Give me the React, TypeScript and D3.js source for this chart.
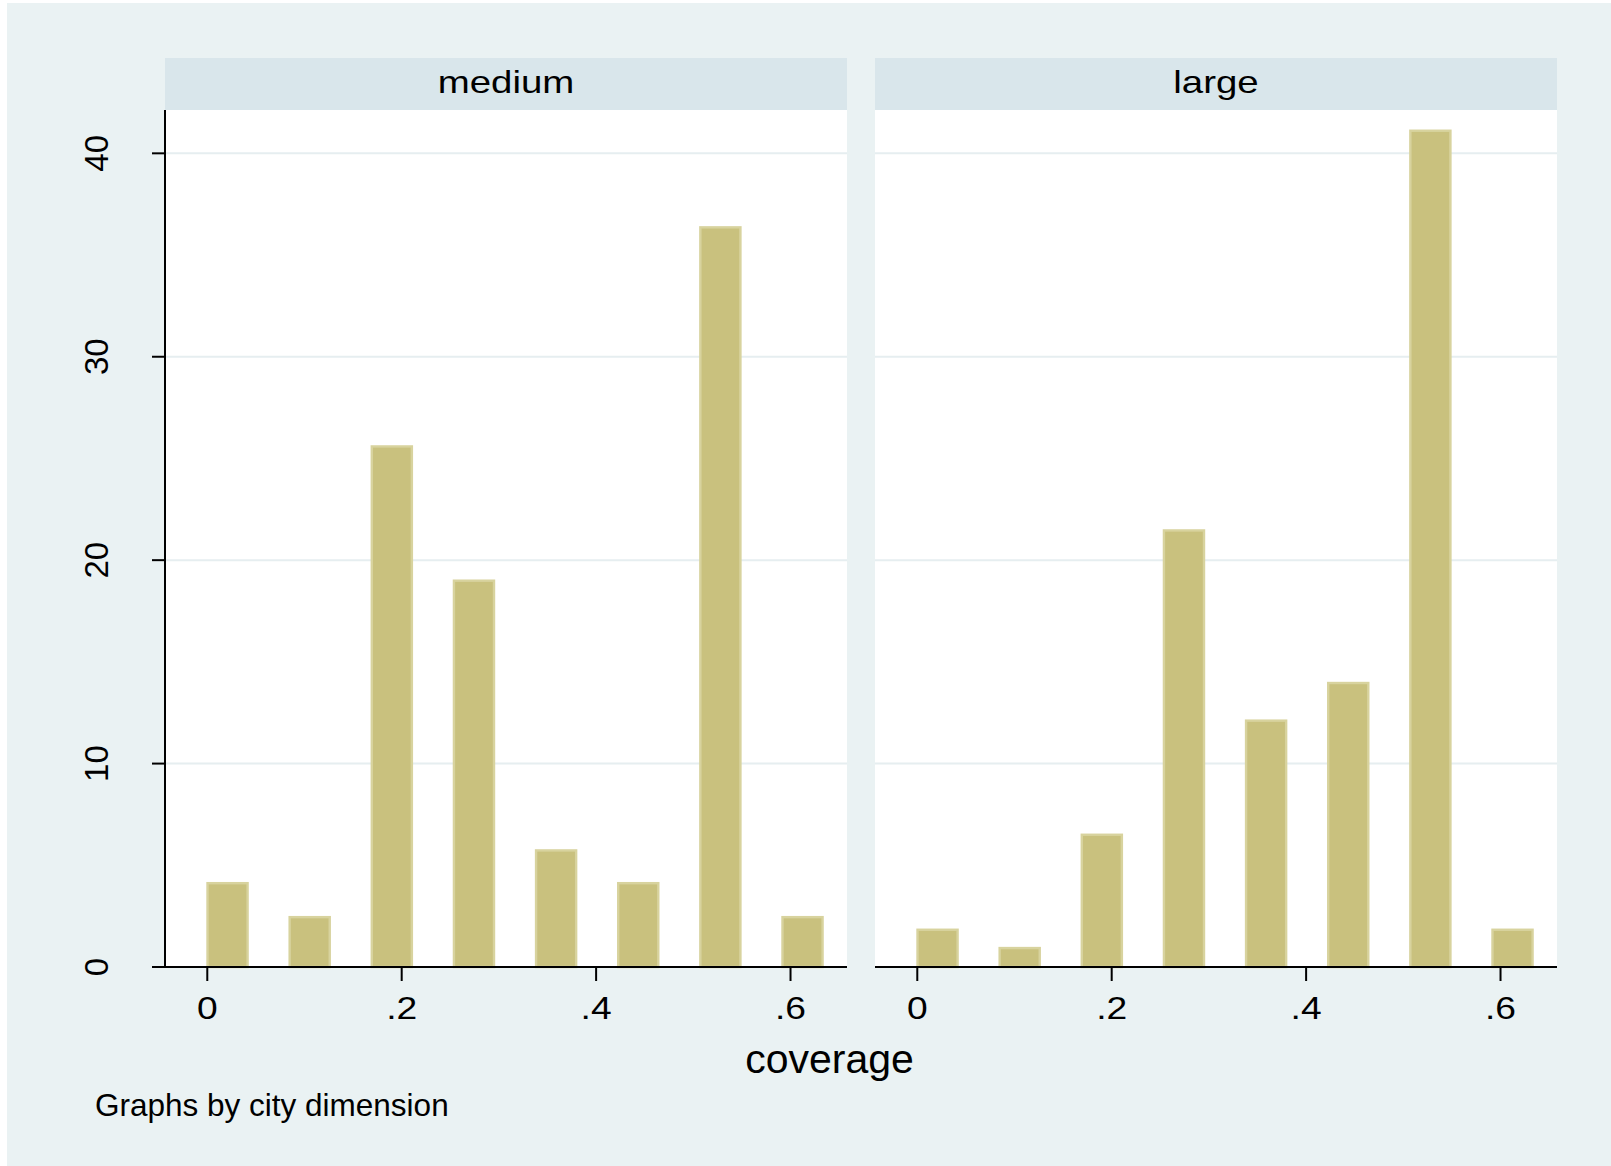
import { useEffect } from 'react';
import * as d3 from 'd3';

// bins of coverage (left edges) and percent heights
const binStarts = [-0.001, 0.0835, 0.168, 0.2525, 0.337, 0.4215, 0.506, 0.5905];
const mediumVals = [4.18, 2.51, 25.65, 19.05, 5.79, 4.18, 36.42, 2.51];
const largeVals = [1.89, 0.99, 6.56, 21.52, 12.17, 14.02, 41.17, 1.89];
const panelNames = ['medium', 'large'];
const xTicks = [0, 0.2, 0.4, 0.6];
const xTickLabels = ['0', '.2', '.4', '.6'];
const yTicks = [0, 10, 20, 30, 40];
const gridTicks = [10, 20, 30, 40];

const W = 1611;
const H = 1166;
const BAR_W = 0.0437;
const FONT = '"Liberation Sans", Arial, Helvetica, sans-serif';

const panelLeft = [165, 875];
const panelW = 682;
const plotTop = 110;
const plotBottom = 967;
const stripTop = 58;

const App = () => {
  useEffect(() => {
    document.body.style.margin = '0';
  }, []);

  const y = d3.scaleLinear().domain([0, 42.13]).range([plotBottom, plotTop]);
  const series = [mediumVals, largeVals];
  const sw = 2.4;

  return (
    <svg width={W} height={H} style={{ position: 'absolute', left: 0, top: 0, display: 'block' }} fontFamily={FONT}>
      <rect x={0} y={0} width={W} height={H} fill="#ffffff" />
      <rect x={7} y={3} width={W - 7} height={H - 3} fill="#eaf2f3" />

      {series.map((vals, p) => {
        const x0 = panelLeft[p];
        const x = d3.scaleLinear().domain([-0.0435, 0.6581]).range([x0, x0 + panelW]);
        return (
          <g key={p}>
            {/* strip */}
            <rect x={x0} y={stripTop} width={panelW} height={plotTop - stripTop} fill="#d9e6eb" />
            <text
              transform={`translate(${x0 + panelW / 2},92.5) scale(1.24,1)`}
              textAnchor="middle"
              fontSize={31}
              fill="#000"
            >
              {panelNames[p]}
            </text>
            {/* plot area */}
            <rect x={x0} y={plotTop} width={panelW} height={plotBottom - plotTop} fill="#ffffff" />
            {gridTicks.map((t) => (
              <line key={t} x1={x0} x2={x0 + panelW} y1={y(t)} y2={y(t)} stroke="#e6eef0" strokeWidth={2} />
            ))}
            {/* bars */}
            {vals.map((v, i) => {
              const bx = x(binStarts[i]);
              const bw = x(binStarts[i] + BAR_W) - bx;
              return (
                <rect
                  key={i}
                  x={bx + sw / 2}
                  y={y(v) + sw / 2}
                  width={bw - sw}
                  height={y(0) - y(v) - sw / 2}
                  fill="#c9c17e"
                  stroke="#d8d39e"
                  strokeWidth={sw}
                />
              );
            })}
            {/* x axis */}
            <line x1={x0} x2={x0 + panelW} y1={y(0)} y2={y(0)} stroke="#000" strokeWidth={2} />
            {xTicks.map((t, i) => (
              <g key={t}>
                <line x1={x(t)} x2={x(t)} y1={y(0)} y2={y(0) + 14} stroke="#000" strokeWidth={2} />
                <text
                  transform={`translate(${x(t)},1019) scale(1.2,1)`}
                  textAnchor="middle"
                  fontSize={31}
                  fill="#000"
                >
                  {xTickLabels[i]}
                </text>
              </g>
            ))}
            {/* y axis only on the first panel */}
            {p === 0 && (
              <g>
                <line x1={x0} x2={x0} y1={plotTop} y2={plotBottom} stroke="#000" strokeWidth={2} />
                {yTicks.map((t) => (
                  <g key={t}>
                    <line x1={x0 - 13} x2={x0} y1={y(t)} y2={y(t)} stroke="#000" strokeWidth={2} />
                    <text
                      transform={`translate(108,${y(t)}) rotate(-90)`}
                      textAnchor="middle"
                      fontSize={33}
                      fill="#000"
                    >
                      {t}
                    </text>
                  </g>
                ))}
              </g>
            )}
          </g>
        );
      })}

      <text x={829.5} y={1073} textAnchor="middle" fontSize={41} fill="#000">
        coverage
      </text>
      <text x={95} y={1116} fontSize={31.5} fill="#000">
        Graphs by city dimension
      </text>
    </svg>
  );
};

export default App;
